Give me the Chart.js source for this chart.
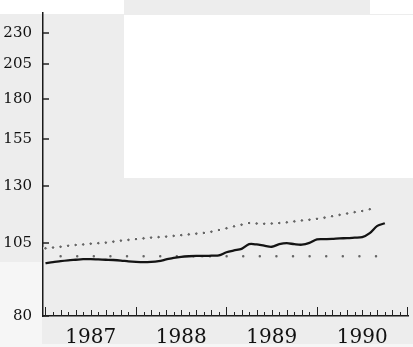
<!DOCTYPE html>
<html>
<head>
<meta charset="utf-8">
<script src="https://cdn.jsdelivr.net/npm/chart.js@4"></script>
<style>
  html, body { margin: 0; padding: 0; background: #ededed; }
  #wrap { width: 413px; height: 347px; }
</style>
</head>
<body>
<div id="wrap"><canvas id="myChart" width="413" height="347"></canvas></div>
<script>
// month index: 0 = Jan 1987
const solidMonths = [0,1,2,3,4,5,6,7,8,9,10,11,12,13,14,15,16,17,18,19,20,21,22,23,24,25,26,27,28,29,30,31,32,33,34,35,36,37,38,39,40,41,42,43,44,45];
const solidValues = [97.5,97.8,98.2,98.5,98.7,98.9,98.9,98.8,98.7,98.6,98.4,98.1,97.9,97.8,97.9,98.2,98.8,99.4,99.8,100.0,100.1,100.1,100.2,100.3,101.5,102.2,102.8,104.6,104.5,104.0,103.6,104.6,105.0,104.6,104.4,105.1,106.5,106.6,106.7,106.9,107.0,107.2,107.4,109.0,112.0,113.1];

const upperMonths = [0,1,2,3,4,5,6,7,8,9,10,11,12,13,14,15,16,17,18,19,20,21,22,23,24,25,26,27,28,29,30,31,32,33,34,35,36,37,38,39,40,41,42,43];
const upperValues = [103.0,103.3,103.6,104.0,104.3,104.5,104.8,105.0,105.2,105.6,106.0,106.3,106.6,106.9,107.2,107.4,107.6,107.9,108.2,108.5,108.8,109.1,109.6,110.3,111.0,111.8,112.5,113.2,113.0,112.9,113.0,113.2,113.5,113.9,114.3,114.6,115.0,115.5,116.1,116.7,117.3,117.9,118.4,119.2];

const baseMonths = [2, 46];
const baseValues = [100, 100];

const yTicks = [80, 105, 130, 155, 180, 205, 230];
const yearLabels = ['1987', '1988', '1989', '1990'];

function toPoints(xs, ys) {
    return xs.map((m, i) => ({ x: m, y: ys[i] }));
}

// backdrop panels of the scanned page
const backdrop = {
    id: 'backdrop',
    beforeDraw(chart) {
        const ctx = chart.ctx;
        ctx.save();
        ctx.fillStyle = '#ededed';
        ctx.fillRect(0, 0, 413, 347);
        ctx.fillStyle = '#f6f6f6';
        ctx.fillRect(0, 262, 42, 85);
        ctx.fillRect(0, 344, 413, 3);
        ctx.fillStyle = '#ffffff';
        ctx.fillRect(0, 0, 124, 14);
        ctx.fillRect(370, 0, 43, 14);
        ctx.fillRect(124, 15, 289, 163);
        ctx.restore();
    }
};

// ticks pointing into the plot, like the original
const innerTicks = {
    id: 'innerTicks',
    afterDraw(chart) {
        const ctx = chart.ctx;
        const xs = chart.scales.x;
        const ys = chart.scales.y;
        ctx.save();
        ctx.strokeStyle = '#222';
        ctx.lineWidth = 1;
        const base = ys.bottom;
        for (let k = 0; k <= 48; k++) {
            const px = Math.round(xs.getPixelForValue(k)) + 0.5;
            let len = k % 2 === 0 ? 6 : 4;
            if (k % 12 === 0) len = 9;
            ctx.beginPath();
            ctx.moveTo(px, base);
            ctx.lineTo(px, base - len);
            ctx.stroke();
        }
        const left = xs.left;
        ctx.lineWidth = 1.5;
        yTicks.forEach(v => {
            const py = Math.round(ys.getPixelForValue(v));
            ctx.beginPath();
            ctx.moveTo(left, py);
            ctx.lineTo(left + 6, py);
            ctx.stroke();
        });
        ctx.restore();
    }
};

const ctx = document.getElementById('myChart').getContext('2d');
const myChart = new Chart(ctx, {
    type: 'line',
    data: {
        datasets: [
            {
                data: toPoints(solidMonths, solidValues),
                borderColor: '#141414',
                borderWidth: 2.3,
                pointRadius: 0,
                tension: 0.3,
                fill: false
            },
            {
                data: toPoints(upperMonths, upperValues),
                showLine: false,
                pointRadius: 1.8,
                pointBackgroundColor: '#666',
                pointBorderColor: '#fafafa',
                pointBorderWidth: 1
            },
            {
                data: toPoints(baseMonths, baseValues),
                borderColor: '#666',
                borderWidth: 2.4,
                borderDash: [0.1, 16.5],
                borderCapStyle: 'round',
                pointRadius: 0,
                fill: false
            }
        ]
    },
    plugins: [backdrop, innerTicks],
    options: {
        responsive: false,
        animation: false,
        layout: { padding: { top: 13, right: 1, left: 0, bottom: 0 } },
        plugins: {
            legend: { display: false },
            tooltip: { enabled: false }
        },
        scales: {
            x: {
                type: 'linear',
                min: -0.33,
                max: 48.07,
                grid: { display: false },
                border: { display: true, color: '#1a1a1a', width: 1.5 },
                afterBuildTicks: function(scale) {
                    scale.ticks = yearLabels.map((y, i) => ({ value: 6 + i * 12 }));
                },
                afterFit: function(scale) { scale.height = 31; },
                ticks: {
                    autoSkip: false,
                    maxRotation: 0,
                    padding: 2,
                    color: '#111',
                    font: { family: 'DejaVu Serif', size: 20 },
                    callback: function(value) {
                        return yearLabels[Math.round((value - 6) / 12)];
                    }
                }
            },
            y: {
                type: 'logarithmic',
                min: 80,
                max: 248,
                grid: { display: false },
                border: { display: true, color: '#1a1a1a', width: 1.5 },
                afterBuildTicks: function(scale) {
                    scale.ticks = yTicks.map(v => ({ value: v }));
                },
                afterFit: function(scale) { scale.width = 43; },
                ticks: {
                    padding: 3,
                    color: '#111',
                    font: { family: 'DejaVu Serif', size: 15 },
                    callback: function(value) { return String(value); }
                }
            }
        }
    }
});
</script>
</body>
</html>
